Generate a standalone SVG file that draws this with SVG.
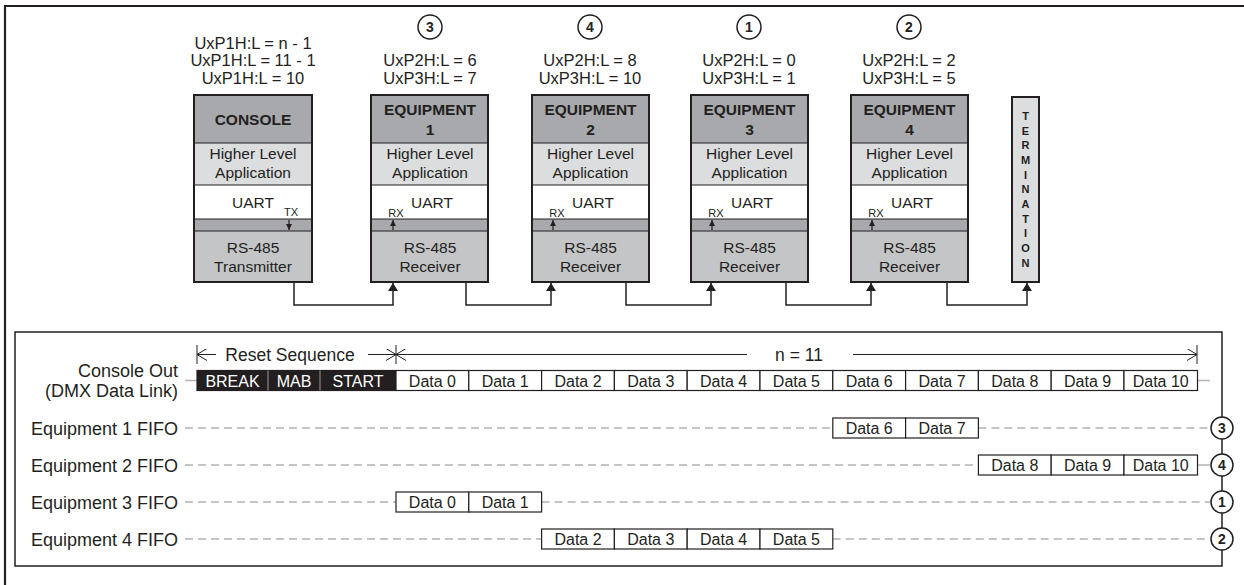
<svg xmlns="http://www.w3.org/2000/svg" width="1244" height="585" viewBox="0 0 1244 585">
<defs>
<marker id="ah" viewBox="0 0 8 10" refX="8" refY="5" markerWidth="8" markerHeight="10" markerUnits="userSpaceOnUse" orient="auto">
<path d="M0,0 L8,5 L0,10 Z" fill="#231f20"/>
</marker>
<marker id="sa" viewBox="0 0 6 6" refX="6" refY="3" markerWidth="6" markerHeight="6" markerUnits="userSpaceOnUse" orient="auto">
<path d="M0,0 L6,3 L0,6 Z" fill="#231f20"/>
</marker>
<marker id="oa" viewBox="0 0 10 12" refX="10" refY="6" markerWidth="10" markerHeight="12" markerUnits="userSpaceOnUse" orient="auto">
<path d="M0,0 L10,6 L0,12" fill="none" stroke="#231f20" stroke-width="1"/>
</marker>
</defs>
<style>
text{font-family:"Liberation Sans",Arial,sans-serif;fill:#231f20}
.lbl{font-size:15.5px;text-anchor:middle}
.top{font-size:16.5px;text-anchor:middle}
.hd{font-size:15.5px;font-weight:bold;text-anchor:middle}
.sm{font-size:11px;text-anchor:middle}
.term{font-size:11px;font-weight:bold;text-anchor:middle}
.num{font-size:14px;font-weight:bold;text-anchor:middle}
.row{font-size:18px;text-anchor:end}
.cell{font-size:16px;text-anchor:middle}
.wcell{font-size:16px;text-anchor:middle;fill:#ffffff}
.big{font-size:17.5px;text-anchor:middle}
.box{stroke:#231f20;stroke-width:2}
.h{fill:#a7a9ac}
.a{fill:#dcddde}
.u{fill:#ffffff}
.b{fill:#a7a9ac}
.r{fill:#c4c5c7}
.cw{fill:#ffffff;stroke:#231f20;stroke-width:1.2}
.ck{fill:#231f20;stroke:#231f20;stroke-width:1.2}
.dash{stroke:#b3b3b3;stroke-width:1.5;stroke-dasharray:8 5;fill:none}
.gl{stroke:#b3b3b3;stroke-width:1.5;fill:none}
.circ{fill:#ffffff;stroke:#231f20;stroke-width:1.5}
.conn{fill:none;stroke:#231f20;stroke-width:1.5}
</style>
<rect width="1244" height="585" fill="#ffffff"/>
<!-- outer frame -->
<path d="M5,585 V6 H1244" fill="none" stroke="#231f20" stroke-width="2.2"/>

<!-- Console -->
<g id="console">
<text class="top" x="253" y="48.5">UxP1H:L = n - 1</text>
<text class="top" x="253" y="66">UxP1H:L = 11 - 1</text>
<text class="top" x="253" y="83.5">UxP1H:L = 10</text>
<rect class="h" x="194" y="95" width="118" height="48"/>
<rect class="a" x="194" y="143" width="118" height="42"/>
<rect class="u" x="194" y="185" width="118" height="34"/>
<rect class="b" x="194" y="219" width="118" height="12"/>
<rect class="r" x="194" y="231" width="118" height="51"/>
<path d="M194,143 H312 M194,185 H312 M194,219 H312 M194,231 H312" stroke="#231f20" stroke-width="1.2"/>
<rect x="194" y="95" width="118" height="187" fill="none" class="box"/>
<text class="hd" x="253" y="125">CONSOLE</text>
<text class="lbl" x="253" y="159">Higher Level</text>
<text class="lbl" x="253" y="178">Application</text>
<text class="lbl" x="253" y="208">UART</text>
<text class="sm" x="291" y="216">TX</text>
<line x1="289" y1="220" x2="289" y2="230" stroke="#231f20" stroke-width="1.2" marker-end="url(#sa)"/>
<text class="lbl" x="253" y="253">RS-485</text>
<text class="lbl" x="253" y="272">Transmitter</text>
</g>

<!-- Equipment 1 -->
<g id="equipment1">
<circle class="circ" cx="430" cy="27" r="12"/>
<text class="num" x="430" y="32">3</text>
<text class="top" x="430" y="66">UxP2H:L = 6</text>
<text class="top" x="430" y="83.5">UxP3H:L = 7</text>
<rect class="h" x="371" y="95" width="117" height="48"/>
<rect class="a" x="371" y="143" width="117" height="42"/>
<rect class="u" x="371" y="185" width="117" height="34"/>
<rect class="b" x="371" y="219" width="117" height="12"/>
<rect class="r" x="371" y="231" width="117" height="51"/>
<path d="M371,143 H488 M371,185 H488 M371,219 H488 M371,231 H488" stroke="#231f20" stroke-width="1.2"/>
<rect x="371" y="95" width="117" height="187" fill="none" class="box"/>
<text class="hd" x="430" y="115">EQUIPMENT</text>
<text class="hd" x="430" y="135">1</text>
<text class="lbl" x="430" y="159">Higher Level</text>
<text class="lbl" x="430" y="178">Application</text>
<text class="lbl" x="432" y="208">UART</text>
<text class="sm" x="396" y="217">RX</text>
<line x1="393" y1="230" x2="393" y2="220" stroke="#231f20" stroke-width="1.2" marker-end="url(#sa)"/>
<text class="lbl" x="430" y="253">RS-485</text>
<text class="lbl" x="430" y="272">Receiver</text>
</g>

<!-- Equipment 2 -->
<g id="equipment2">
<circle class="circ" cx="590" cy="27" r="12"/>
<text class="num" x="590" y="32">4</text>
<text class="top" x="590" y="66">UxP2H:L = 8</text>
<text class="top" x="590" y="83.5">UxP3H:L = 10</text>
<rect class="h" x="532" y="95" width="117" height="48"/>
<rect class="a" x="532" y="143" width="117" height="42"/>
<rect class="u" x="532" y="185" width="117" height="34"/>
<rect class="b" x="532" y="219" width="117" height="12"/>
<rect class="r" x="532" y="231" width="117" height="51"/>
<path d="M532,143 H649 M532,185 H649 M532,219 H649 M532,231 H649" stroke="#231f20" stroke-width="1.2"/>
<rect x="532" y="95" width="117" height="187" fill="none" class="box"/>
<text class="hd" x="590.5" y="115">EQUIPMENT</text>
<text class="hd" x="590.5" y="135">2</text>
<text class="lbl" x="590.5" y="159">Higher Level</text>
<text class="lbl" x="590.5" y="178">Application</text>
<text class="lbl" x="593" y="208">UART</text>
<text class="sm" x="557" y="217">RX</text>
<line x1="553" y1="230" x2="553" y2="220" stroke="#231f20" stroke-width="1.2" marker-end="url(#sa)"/>
<text class="lbl" x="590.5" y="253">RS-485</text>
<text class="lbl" x="590.5" y="272">Receiver</text>
</g>

<!-- Equipment 3 -->
<g id="equipment3">
<circle class="circ" cx="749" cy="27" r="12"/>
<text class="num" x="749" y="32">1</text>
<text class="top" x="749" y="66">UxP2H:L = 0</text>
<text class="top" x="749" y="83.5">UxP3H:L = 1</text>
<rect class="h" x="691" y="95" width="117" height="48"/>
<rect class="a" x="691" y="143" width="117" height="42"/>
<rect class="u" x="691" y="185" width="117" height="34"/>
<rect class="b" x="691" y="219" width="117" height="12"/>
<rect class="r" x="691" y="231" width="117" height="51"/>
<path d="M691,143 H808 M691,185 H808 M691,219 H808 M691,231 H808" stroke="#231f20" stroke-width="1.2"/>
<rect x="691" y="95" width="117" height="187" fill="none" class="box"/>
<text class="hd" x="749.5" y="115">EQUIPMENT</text>
<text class="hd" x="749.5" y="135">3</text>
<text class="lbl" x="749.5" y="159">Higher Level</text>
<text class="lbl" x="749.5" y="178">Application</text>
<text class="lbl" x="752" y="208">UART</text>
<text class="sm" x="716" y="217">RX</text>
<line x1="712" y1="230" x2="712" y2="220" stroke="#231f20" stroke-width="1.2" marker-end="url(#sa)"/>
<text class="lbl" x="749.5" y="253">RS-485</text>
<text class="lbl" x="749.5" y="272">Receiver</text>
</g>

<!-- Equipment 4 -->
<g id="equipment4">
<circle class="circ" cx="909" cy="27" r="12"/>
<text class="num" x="909" y="32">2</text>
<text class="top" x="909" y="66">UxP2H:L = 2</text>
<text class="top" x="909" y="83.5">UxP3H:L = 5</text>
<rect class="h" x="851" y="95" width="117" height="48"/>
<rect class="a" x="851" y="143" width="117" height="42"/>
<rect class="u" x="851" y="185" width="117" height="34"/>
<rect class="b" x="851" y="219" width="117" height="12"/>
<rect class="r" x="851" y="231" width="117" height="51"/>
<path d="M851,143 H968 M851,185 H968 M851,219 H968 M851,231 H968" stroke="#231f20" stroke-width="1.2"/>
<rect x="851" y="95" width="117" height="187" fill="none" class="box"/>
<text class="hd" x="909.5" y="115">EQUIPMENT</text>
<text class="hd" x="909.5" y="135">4</text>
<text class="lbl" x="909.5" y="159">Higher Level</text>
<text class="lbl" x="909.5" y="178">Application</text>
<text class="lbl" x="912" y="208">UART</text>
<text class="sm" x="876" y="217">RX</text>
<line x1="872" y1="230" x2="872" y2="220" stroke="#231f20" stroke-width="1.2" marker-end="url(#sa)"/>
<text class="lbl" x="909.5" y="253">RS-485</text>
<text class="lbl" x="909.5" y="272">Receiver</text>
</g>

<!-- Termination -->
<g id="termination">
<rect x="1012" y="97" width="27" height="185" fill="#dcddde" class="box"/>
<text class="term" x="1025.5" y="120">T</text>
<text class="term" x="1025.5" y="135">E</text>
<text class="term" x="1025.5" y="149">R</text>
<text class="term" x="1025.5" y="164">M</text>
<text class="term" x="1025.5" y="179">I</text>
<text class="term" x="1025.5" y="193">N</text>
<text class="term" x="1025.5" y="208">A</text>
<text class="term" x="1025.5" y="223">T</text>
<text class="term" x="1025.5" y="237">I</text>
<text class="term" x="1025.5" y="252">O</text>
<text class="term" x="1025.5" y="267">N</text>
</g>

<!-- Connectors -->
<g id="connectors">
<path class="conn" d="M294,283 V305 H393 V283" marker-end="url(#ah)"/>
<path class="conn" d="M466,283 V305 H551 V283" marker-end="url(#ah)"/>
<path class="conn" d="M626,283 V305 H711 V283" marker-end="url(#ah)"/>
<path class="conn" d="M786,283 V305 H871 V283" marker-end="url(#ah)"/>
<path class="conn" d="M947,283 V305 H1027 V283" marker-end="url(#ah)"/>
</g>

<!-- Timing diagram -->
<g id="timing">
<path d="M1222,332 H15 V566 H1222 Z" fill="none" stroke="#231f20" stroke-width="1.5"/>
<g id="dimensions" stroke="#231f20" stroke-width="1" fill="none">
<line x1="197" y1="345" x2="197" y2="364"/>
<line x1="396" y1="345" x2="396" y2="364"/>
<line x1="1197" y1="345" x2="1197" y2="364"/>
<line x1="216" y1="354.5" x2="197" y2="354.5" marker-end="url(#oa)"/>
<line x1="368" y1="354.5" x2="396" y2="354.5" marker-end="url(#oa)"/>
<line x1="747" y1="354.5" x2="396" y2="354.5" marker-end="url(#oa)"/>
<line x1="853" y1="354.5" x2="1197" y2="354.5" marker-end="url(#oa)"/>
</g>
<text class="big" x="290" y="361">Reset Sequence</text>
<text class="big" x="799" y="361">n = 11</text>

<g id="row-console">
<text class="row" x="178" y="377">Console Out</text>
<text class="row" x="178" y="397">(DMX Data Link)</text>
<line class="gl" x1="185" y1="380.5" x2="197" y2="380.5"/>
<line class="gl" x1="1198" y1="380.5" x2="1210" y2="380.5"/>
<rect class="ck" x="197" y="370.5" width="199" height="20"/>
<line x1="268" y1="370.5" x2="268" y2="390.5" stroke="#9a9a9a" stroke-width="1"/>
<line x1="320" y1="370.5" x2="320" y2="390.5" stroke="#9a9a9a" stroke-width="1"/>
<text class="wcell" x="232.5" y="386.5">BREAK</text>
<text class="wcell" x="294" y="386.5">MAB</text>
<text class="wcell" x="358" y="386.5">START</text>
<rect class="cw" x="396" y="370.5" width="72.8" height="20"/><text class="cell" x="432.4" y="386.5">Data 0</text>
<rect class="cw" x="468.8" y="370.5" width="72.8" height="20"/><text class="cell" x="505.2" y="386.5">Data 1</text>
<rect class="cw" x="541.6" y="370.5" width="72.8" height="20"/><text class="cell" x="578" y="386.5">Data 2</text>
<rect class="cw" x="614.4" y="370.5" width="72.8" height="20"/><text class="cell" x="650.8" y="386.5">Data 3</text>
<rect class="cw" x="687.2" y="370.5" width="72.8" height="20"/><text class="cell" x="723.6" y="386.5">Data 4</text>
<rect class="cw" x="760" y="370.5" width="72.8" height="20"/><text class="cell" x="796.4" y="386.5">Data 5</text>
<rect class="cw" x="832.8" y="370.5" width="72.8" height="20"/><text class="cell" x="869.2" y="386.5">Data 6</text>
<rect class="cw" x="905.6" y="370.5" width="72.8" height="20"/><text class="cell" x="942" y="386.5">Data 7</text>
<rect class="cw" x="978.4" y="370.5" width="72.8" height="20"/><text class="cell" x="1014.8" y="386.5">Data 8</text>
<rect class="cw" x="1051.2" y="370.5" width="72.8" height="20"/><text class="cell" x="1087.6" y="386.5">Data 9</text>
<rect class="cw" x="1124" y="370.5" width="73.5" height="20"/><text class="cell" x="1160.7" y="386.5">Data 10</text>
</g>

<g id="row-eq1">
<text class="row" x="178" y="434.5">Equipment 1 FIFO</text>
<line class="dash" x1="185" y1="428" x2="832.8" y2="428"/>
<line class="dash" x1="978.4" y1="428" x2="1210" y2="428"/>
<rect class="cw" x="832.8" y="418" width="72.8" height="20"/><text class="cell" x="869.2" y="434">Data 6</text>
<rect class="cw" x="905.6" y="418" width="72.8" height="20"/><text class="cell" x="942" y="434">Data 7</text>
</g>

<g id="row-eq2">
<text class="row" x="178" y="471.5">Equipment 2 FIFO</text>
<line class="dash" x1="185" y1="465" x2="978.4" y2="465"/>
<line class="gl" x1="1197.5" y1="465" x2="1210" y2="465"/>
<rect class="cw" x="978.4" y="455" width="72.8" height="20"/><text class="cell" x="1014.8" y="471">Data 8</text>
<rect class="cw" x="1051.2" y="455" width="72.8" height="20"/><text class="cell" x="1087.6" y="471">Data 9</text>
<rect class="cw" x="1124" y="455" width="73.5" height="20"/><text class="cell" x="1160.7" y="471">Data 10</text>
</g>

<g id="row-eq3">
<text class="row" x="178" y="508.5">Equipment 3 FIFO</text>
<line class="dash" x1="185" y1="502" x2="396" y2="502"/>
<line class="dash" x1="541.6" y1="502" x2="1210" y2="502"/>
<rect class="cw" x="396" y="492" width="72.8" height="20"/><text class="cell" x="432.4" y="508">Data 0</text>
<rect class="cw" x="468.8" y="492" width="72.8" height="20"/><text class="cell" x="505.2" y="508">Data 1</text>
</g>

<g id="row-eq4">
<text class="row" x="178" y="545.5">Equipment 4 FIFO</text>
<line class="dash" x1="185" y1="539" x2="541.6" y2="539"/>
<line class="dash" x1="832.8" y1="539" x2="1210" y2="539"/>
<rect class="cw" x="541.6" y="529" width="72.8" height="20"/><text class="cell" x="578" y="545">Data 2</text>
<rect class="cw" x="614.4" y="529" width="72.8" height="20"/><text class="cell" x="650.8" y="545">Data 3</text>
<rect class="cw" x="687.2" y="529" width="72.8" height="20"/><text class="cell" x="723.6" y="545">Data 4</text>
<rect class="cw" x="760" y="529" width="72.8" height="20"/><text class="cell" x="796.4" y="545">Data 5</text>
</g>

<g id="fifo-markers">
<circle class="circ" cx="1222" cy="428" r="11"/><text class="num" x="1222" y="433">3</text>
<circle class="circ" cx="1222" cy="465" r="11"/><text class="num" x="1222" y="470">4</text>
<circle class="circ" cx="1222" cy="502" r="11"/><text class="num" x="1222" y="507">1</text>
<circle class="circ" cx="1222" cy="539" r="11"/><text class="num" x="1222" y="544">2</text>
</g>
</g>
</svg>
